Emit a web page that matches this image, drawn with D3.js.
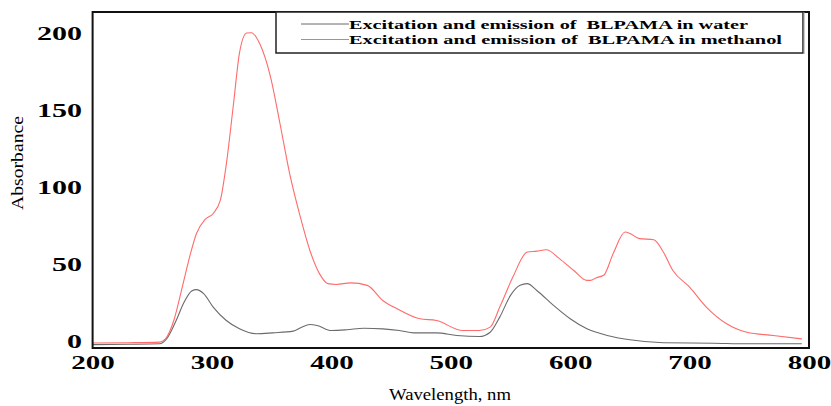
<!DOCTYPE html>
<html>
<head>
<meta charset="utf-8">
<script src="https://cdn.jsdelivr.net/npm/d3@7/dist/d3.min.js"></script>
<style>
  html, body { margin: 0; padding: 0; background: #fff; }
  svg { display: block; }
</style>
</head>
<body>
<svg id="chart" width="831" height="406"></svg>
<script>
// ---- Data ----
const seriesNames = ["Excitation and emission of  BLPAMA in water", "Excitation and emission of  BLPAMA in methanol"];
const seriesColors = ["#6b6b6b", "#ff6b6b"];

const waterNm  = [200, 230, 256, 262, 270, 276, 283, 287, 293, 301, 312, 323, 337, 351, 368, 375, 382, 388, 400, 413, 427, 443, 457, 469, 488, 505, 524, 533, 541, 550, 558, 564, 572, 586, 600, 614, 631, 650, 678, 720, 748, 794];
const waterVal = [-2, -1.8, -1.5, 1.7, 13.6, 24.5, 32.7, 33.6, 31, 22.3, 13.6, 8.2, 5, 5.6, 6.7, 9.3, 11, 10.4, 7.1, 7.6, 8.6, 8.2, 7.1, 5.6, 5.6, 3.9, 3.2, 6, 15.8, 29.9, 36.4, 37.5, 33.1, 23.4, 14.7, 8.2, 3.9, 1.1, -0.8, -1.1, -1.5, -1.5];

const methNm  = [200, 230, 256, 261, 268, 275, 282, 287, 294, 301, 307, 312, 318, 323, 329, 333, 340, 349, 357, 365, 374, 382, 390, 397, 404, 416, 430, 443, 455, 474, 488, 510, 524, 533, 541, 552, 564, 572, 580, 591, 603, 614, 617, 622, 628, 636, 646, 650, 658, 670, 678, 686, 700, 714, 731, 748, 770, 794];
const methVal = [-1, -0.8, -0.4, 1.7, 13.6, 35, 57, 70, 79, 83, 91.6, 115, 154, 187, 200, 200.2, 193, 171.6, 141, 109, 80.7, 59, 44, 37.5, 37, 38, 36.4, 26.6, 21.2, 14.7, 13.6, 7.1, 7.1, 9.3, 22.3, 41.8, 58, 58.6, 59.5, 53.7, 46, 39.6, 39.6, 41.4, 42.9, 57, 71, 70, 66.7, 66, 58, 46, 35.3, 22.3, 11.5, 6, 3.9, 1.7];

const xTicks = [200, 300, 400, 500, 600, 700, 800];
const yTicks = [0, 50, 100, 150, 200];
const xTitle = "Wavelength, nm";
const yTitle = "Absorbance";

// ---- Layout ----
const svg = d3.select("#chart");
const plot = { left: 92.6, right: 809, top: 12, bottom: 348 };

const x = d3.scaleLinear().domain([200, 800]).range([plot.left, plot.right]);
const y = d3.scaleLinear().domain([0, 200]).range([341.5, 33]);

const serif = "'Liberation Serif', 'Times New Roman', serif";

const series = [
  { nm: waterNm, val: waterVal },
  { nm: methNm, val: methVal }
];
const line = d3.line().x(d => x(d[0])).y(d => y(d[1])).curve(d3.curveMonotoneX);

series.forEach((s, i) => {
  svg.append("path")
    .datum(d3.zip(s.nm, s.val))
    .attr("fill", "none")
    .attr("stroke", seriesColors[i])
    .attr("stroke-width", 1.1)
    .attr("d", line);
});

// Frame
svg.append("rect")
  .attr("x", plot.left).attr("y", plot.top)
  .attr("width", plot.right - plot.left).attr("height", plot.bottom - plot.top)
  .attr("fill", "none").attr("stroke", "#111").attr("stroke-width", 2);

// X axis labels
const xAxis = d3.axisBottom(x).tickValues(xTicks).tickSize(0).tickPadding(0).tickFormat(d3.format("d"));
const gx = svg.append("g").attr("transform", `translate(0,${plot.bottom})`).call(xAxis);
gx.select(".domain").remove();
gx.selectAll("text")
  .attr("y", 21).attr("dy", 0)
  .attr("font-family", serif).attr("font-weight", "bold").attr("font-size", 18)
  .attr("fill", "#000")
  .attr("textLength", function(d){ return String(d).length * 14.5; })
  .attr("lengthAdjust", "spacingAndGlyphs");

// Y axis labels
const yAxis = d3.axisLeft(y).tickValues(yTicks).tickSize(0).tickPadding(0).tickFormat(d3.format("d"));
const gy = svg.append("g").attr("transform", `translate(82,0)`).call(yAxis);
gy.select(".domain").remove();
gy.selectAll("text")
  .attr("x", 0).attr("dy", "0.34em")
  .attr("font-family", serif).attr("font-weight", "bold").attr("font-size", 18)
  .attr("fill", "#000")
  .attr("textLength", function(d){ return String(d).length * 15; })
  .attr("lengthAdjust", "spacingAndGlyphs");

// Axis titles
svg.append("text")
  .attr("x", 450).attr("y", 400)
  .attr("text-anchor", "middle")
  .attr("font-family", serif).attr("font-size", 17)
  .attr("textLength", 122).attr("lengthAdjust", "spacingAndGlyphs")
  .text(xTitle);

svg.append("text")
  .attr("transform", "translate(23,163) rotate(-90)")
  .attr("text-anchor", "middle")
  .attr("font-family", serif).attr("font-size", 17)
  .attr("textLength", 94).attr("lengthAdjust", "spacingAndGlyphs")
  .text(yTitle);

// Legend
const leg = svg.append("g");
leg.append("rect")
  .attr("x", 276).attr("y", 12).attr("width", 527).attr("height", 41)
  .attr("fill", "#fff").attr("stroke", "#222").attr("stroke-width", 1.5);
leg.append("line")
  .attr("x1", 804).attr("x2", 804).attr("y1", 12).attr("y2", 54)
  .attr("stroke", "#999").attr("stroke-width", 1);
const legY = [24, 39.5];
const legLen = [399, 433];
seriesNames.forEach((name, i) => {
  leg.append("line")
    .attr("x1", 301).attr("x2", 349)
    .attr("y1", legY[i]).attr("y2", legY[i])
    .attr("stroke", seriesColors[i]).attr("stroke-width", 1);
  leg.append("text")
    .attr("x", 349).attr("y", legY[i] + 4.5)
    .attr("font-family", serif).attr("font-weight", "bold").attr("font-size", 13.5)
    .attr("textLength", legLen[i]).attr("lengthAdjust", "spacingAndGlyphs")
    .style("white-space", "pre")
    .text(name);
});
</script>
</body>
</html>
